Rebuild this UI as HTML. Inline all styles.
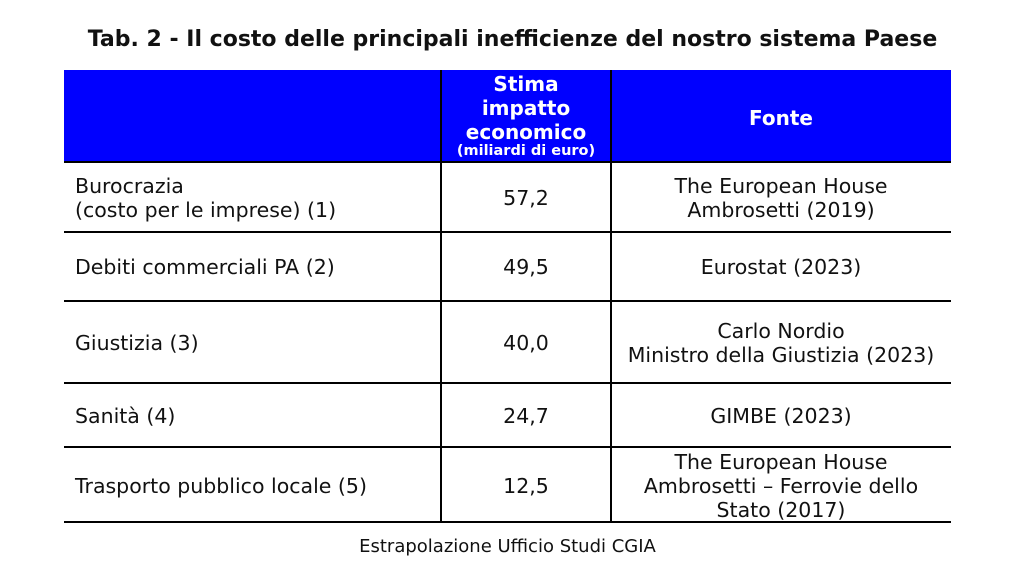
<!DOCTYPE html>
<html><head><meta charset="utf-8"><style>
body{margin:0;width:1025px;height:572px;background:#fff;position:relative;overflow:hidden;font-family:"DejaVu Sans","Liberation Sans",sans-serif;color:#111}
.a{position:absolute}
.t{position:absolute;font-size:20.5px;line-height:24px;white-space:nowrap}
.c{text-align:center}
.h{position:absolute;left:64px;width:887px;height:2px;background:#000}
.v{position:absolute;width:2px;background:#000}
</style></head><body>
<div class="a c" style="left:0;width:1025px;top:26px;font-size:22px;font-weight:bold;line-height:28px;white-space:nowrap">Tab. 2 - Il costo delle principali inefficienze del nostro sistema Paese</div>
<div class="a" style="left:64px;top:70px;width:887px;height:92px;background:#0000ff"></div>
<div class="a c" style="left:441px;width:170px;top:72px;color:#fff;font-weight:bold;font-size:20px;line-height:24px">Stima<br>impatto<br>economico<div style="font-size:14.5px;line-height:15px;white-space:nowrap">(miliardi di euro)</div></div>
<div class="a c" style="left:611px;width:340px;top:106px;color:#fff;font-weight:bold;font-size:20px;line-height:24px">Fonte</div>
<div class="v" style="left:440px;top:70px;height:452px"></div>
<div class="v" style="left:610px;top:70px;height:452px"></div>
<div class="h" style="top:161px"></div>
<div class="h" style="top:231px"></div>
<div class="h" style="top:300px"></div>
<div class="h" style="top:382px"></div>
<div class="h" style="top:446px"></div>
<div class="h" style="top:521px"></div>

<div class="t" style="left:75px;top:174px">Burocrazia<br>(costo per le imprese) (1)</div>
<div class="t c" style="left:441px;width:170px;top:186px">57,2</div>
<div class="t c" style="left:611px;width:340px;top:174px">The European House<br>Ambrosetti (2019)</div>

<div class="t" style="left:75px;top:255px">Debiti commerciali PA (2)</div>
<div class="t c" style="left:441px;width:170px;top:255px">49,5</div>
<div class="t c" style="left:611px;width:340px;top:255px">Eurostat (2023)</div>

<div class="t" style="left:75px;top:331px">Giustizia (3)</div>
<div class="t c" style="left:441px;width:170px;top:331px">40,0</div>
<div class="t c" style="left:611px;width:340px;top:319px">Carlo Nordio<br>Ministro della Giustizia (2023)</div>

<div class="t" style="left:75px;top:404px">Sanità (4)</div>
<div class="t c" style="left:441px;width:170px;top:404px">24,7</div>
<div class="t c" style="left:611px;width:340px;top:404px">GIMBE (2023)</div>

<div class="t" style="left:75px;top:474px">Trasporto pubblico locale (5)</div>
<div class="t c" style="left:441px;width:170px;top:474px">12,5</div>
<div class="t c" style="left:611px;width:340px;top:450px">The European House<br>Ambrosetti – Ferrovie dello<br>Stato (2017)</div>

<div class="a c" style="left:64px;width:887px;top:536px;font-size:18px;line-height:22px;white-space:nowrap">Estrapolazione Ufficio Studi CGIA</div>
</body></html>
